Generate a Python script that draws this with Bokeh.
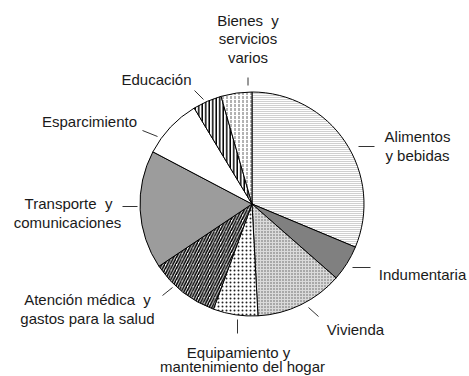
import math
from bokeh.plotting import figure
from bokeh.models import Range1d, ColumnDataSource
from bokeh.core.properties import value
from bokeh.embed import file_html
from bokeh.resources import INLINE

# ---- data ----
categories = ["Alimentos y bebidas", "Indumentaria", "Vivienda",
              "Equipamiento y mantenimiento del hogar",
              "Atención médica y gastos para la salud",
              "Transporte y comunicaciones", "Esparcimiento",
              "Educación", "Bienes y servicios varios"]
weights = [31.29, 5.18, 12.68, 6.44, 10.02, 17.10, 8.66, 4.18, 4.45]

# ---- styles ----
fills = ["white", "#808080", "#a8a8a8", "white", "white", "#9c9c9c", "white", "white", "white"]
hatches = ["-", " ", "+", ".", "/", " ", " ", "|", ":"]
hatch_colors = ["#a0a0a0", "black", "#dadada", "#222222", "black", "black", "black", "black", "#666666"]
hatch_scales = [2, 12, 3, 4, 5.5, 12, 12, 3.5, 4]
hatch_weights = [1, 1, 1, 0.4, 1.6, 1, 1, 1.5, 1]

W, H = 469, 376
def X(px): return px
def Y(py): return H - py

p = figure(width=W, height=H, output_backend="svg", toolbar_location=None,
           x_range=Range1d(0, W), y_range=Range1d(0, H), min_border=0)
p.axis.visible = False
p.grid.visible = False
p.outline_line_color = None
p.background_fill_color = "white"
p.border_fill_color = "white"

cx, cy, r = X(251.5), Y(203.5), 112
total = sum(weights)
cum = 0.0
starts, ends = [], []
for w in weights:
    a0 = math.pi / 2 - 2 * math.pi * (cum + w) / total
    a1 = math.pi / 2 - 2 * math.pi * cum / total
    starts.append(a0)
    ends.append(a1)
    cum += w

for i in range(len(weights)):
    p.wedge(x=cx, y=cy, radius=r, start_angle=starts[i], end_angle=ends[i],
            fill_color=fills[i], line_color="black", line_width=1,
            hatch_pattern=hatches[i], hatch_color=hatch_colors[i],
            hatch_scale=hatch_scales[i], hatch_weight=hatch_weights[i])

NB = "\u00a0"
# labels (text lines, page positions)
label_lines = [
    ("Bienes" + NB + " y", 247.5, 20), ("servicios", 247.5, 38), ("varios", 247.5, 57),
    ("Educación", 156, 79),
    ("Esparcimiento", 89, 121),
    ("Transporte" + NB + " y", 68, 203), ("comunicaciones", 67, 222),
    ("Atención médica" + NB + " y", 87, 299), ("gastos para la salud", 87, 318),
    ("Equipamiento y", 238, 352), ("mantenimiento del hogar", 242, 366),
    ("Vivienda", 355, 329),
    ("Indumentaria", 422, 274),
    ("Alimentos", 417, 136), ("y bebidas", 417, 155),
]
src = ColumnDataSource(dict(
    x=[X(a) for _, a, _ in label_lines],
    y=[Y(b) for _, _, b in label_lines],
    t=[s for s, _, _ in label_lines]))
p.text(x="x", y="y", text="t", source=src, text_font=value("Liberation Sans"),
       text_font_size="15px", text_align="center", text_baseline="middle",
       text_color="#1a1a1a")

connectors = [
    (247.5, 77, 247.5, 85),
    (194, 90, 203, 99),
    (142, 130, 157, 136),
    (122, 206, 137, 206),
    (162, 295, 172, 287),
    (237, 319, 237, 333),
    (308, 307, 318, 316),
    (352, 267, 370, 267),
    (358, 146, 374, 146),
]
p.segment(x0=[X(c[0]) for c in connectors], y0=[Y(c[1]) for c in connectors],
          x1=[X(c[2]) for c in connectors], y1=[Y(c[3]) for c in connectors],
          line_color="#333333", line_width=1)

open("out.html", "w").write(file_html(p, INLINE))
